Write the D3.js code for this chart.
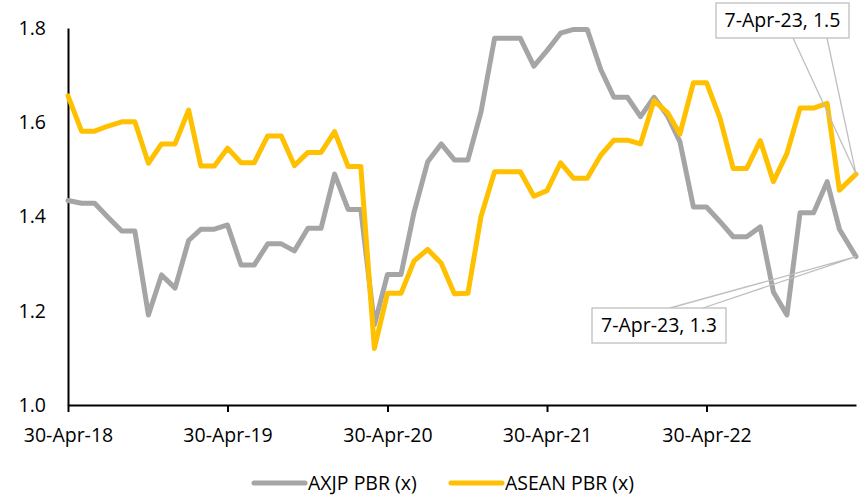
<!DOCTYPE html>
<html>
<head>
<meta charset="utf-8">
<script src="https://cdn.jsdelivr.net/npm/d3@7"></script>
<style>
  body { margin: 0; background: #fff; }
  text { font-family: "Open Sans", "Noto Sans", sans-serif; fill: #000; }
</style>
</head>
<body>
<div id="chart"></div>
<script>
// Month-end observations, last one is a partial month
const dates = [
  "2018-04-30","2018-05-31","2018-06-30","2018-07-31","2018-08-31","2018-09-30","2018-10-31","2018-11-30","2018-12-31",
  "2019-01-31","2019-02-28","2019-03-31","2019-04-30","2019-05-31","2019-06-30","2019-07-31","2019-08-31","2019-09-30","2019-10-31","2019-11-30","2019-12-31",
  "2020-01-31","2020-02-29","2020-03-31","2020-04-30","2020-05-31","2020-06-30","2020-07-31","2020-08-31","2020-09-30","2020-10-31","2020-11-30","2020-12-31",
  "2021-01-31","2021-02-28","2021-03-31","2021-04-30","2021-05-31","2021-06-30","2021-07-31","2021-08-31","2021-09-30","2021-10-31","2021-11-30","2021-12-31",
  "2022-01-31","2022-02-28","2022-03-31","2022-04-30","2022-05-31","2022-06-30","2022-07-31","2022-08-31","2022-09-30","2022-10-31","2022-11-30","2022-12-31",
  "2023-01-31","2023-02-28","2023-04-07"
];

const axjpPBR = [
  1.434,1.428,1.428,1.398,1.369,1.369,1.191,1.276,1.248,1.349,1.373,1.373,1.382,1.297,1.297,
  1.342,1.342,1.327,1.375,1.375,1.490,1.415,1.415,1.170,
  1.277,1.277,1.410,1.516,1.554,1.520,1.520,
  1.622,1.778,1.778,1.778,1.719,1.752,1.789,1.797,1.797,1.712,1.653,1.653,1.612,
  1.653,1.613,1.559,1.420,1.420,1.389,1.357,1.357,1.378,1.240,1.191,1.408,1.408,1.474,1.373,
  1.315
];

const aseanPBR = [
  1.656,1.581,1.581,1.592,1.601,1.601,1.513,1.554,1.554,1.626,1.507,1.507,1.545,1.514,1.514,
  1.571,1.571,1.508,1.536,1.536,1.580,1.506,1.506,1.120,
  1.237,1.237,1.306,1.330,1.301,1.236,1.237,
  1.400,1.495,1.495,1.495,1.443,1.455,1.514,1.481,1.481,1.530,1.562,1.562,1.554,
  1.646,1.620,1.575,1.684,1.684,1.608,1.502,1.502,1.561,1.474,1.534,1.630,1.630,1.640,1.456,
  1.490
];

const seriesNames = ["AXJP PBR (x)", "ASEAN PBR (x)"];
const seriesColors = ["#a5a5a5", "#ffc000"];
const yTicks = [1.0, 1.2, 1.4, 1.6, 1.8];
const xTicks = ["2018-04-30", "2019-04-30", "2020-04-30", "2021-04-30", "2022-04-30"];

const parseDate = d3.timeParse("%Y-%m-%d");
const fmtDate = d3.timeFormat("%-d-%b-%y");
const fontSize = "19.5px";

const width = 862, height = 496;
const margin = { top: 28, right: 6, bottom: 91, left: 68 };

const svg = d3.select("#chart")
  .append("svg")
  .attr("width", width)
  .attr("height", height);

const x = d3.scaleTime()
  .domain([parseDate(dates[0]), parseDate(dates[dates.length - 1])])
  .range([margin.left, width - margin.right]);

const y = d3.scaleLinear()
  .domain([1.0, 1.8])
  .range([height - margin.bottom, margin.top]);

// Y axis: labels only, plain black line
const yAxis = svg.append("g")
  .attr("transform", `translate(${margin.left},0)`)
  .call(d3.axisLeft(y).tickValues(yTicks).tickFormat(d3.format(".1f")).tickSize(0).tickPadding(22));
yAxis.select(".domain").attr("stroke", "#000").attr("stroke-width", 2);
yAxis.selectAll("text").style("font-size", fontSize).attr("fill", "#000");

// X axis
const xAxis = svg.append("g")
  .attr("transform", `translate(0,${y(1.0)})`)
  .call(d3.axisBottom(x).tickValues(xTicks.map(parseDate)).tickFormat(fmtDate).tickSize(7).tickSizeOuter(0).tickPadding(16));
xAxis.select(".domain").attr("stroke", "#000").attr("stroke-width", 2);
xAxis.selectAll(".tick line").attr("stroke", "#000").attr("stroke-width", 2);
xAxis.selectAll("text").style("font-size", fontSize).attr("fill", "#000");

// Lines
const rows = dates.map((d, i) => ({ date: parseDate(d), axjp: axjpPBR[i], asean: aseanPBR[i] }));
const series = [
  { name: seriesNames[0], color: seriesColors[0], values: rows.map(r => [r.date, r.axjp]) },
  { name: seriesNames[1], color: seriesColors[1], values: rows.map(r => [r.date, r.asean]) }
];

const line = d3.line()
  .x(d => x(d[0]))
  .y(d => y(d[1]));

svg.append("g")
  .selectAll("path")
  .data(series)
  .enter().append("path")
    .attr("d", d => line(d.values))
    .attr("fill", "none")
    .attr("stroke", d => d.color)
    .attr("stroke-width", 5)
    .attr("stroke-linejoin", "round")
    .attr("stroke-linecap", "round");

// Data callouts on the last point
const callouts = [
  { s: series[1], box: { x: 716, y: 3, w: 133, h: 35 }, feet: [793, 827], edge: "bottom" },
  { s: series[0], box: { x: 592, y: 308, w: 134, h: 35 }, feet: [670, 703], edge: "top" }
];

const cg = svg.append("g");
callouts.forEach(c => {
  const last = c.s.values[c.s.values.length - 1];
  const px = x(last[0]), py = y(last[1]);
  const ey = c.edge === "bottom" ? c.box.y + c.box.h : c.box.y;
  cg.append("path")
    .attr("d", `M${c.feet[0]},${ey}L${px},${py}L${c.feet[1]},${ey}`)
    .attr("fill", "none")
    .attr("stroke", "#bfbfbf")
    .attr("stroke-width", 1.3);
  cg.append("rect")
    .attr("x", c.box.x).attr("y", c.box.y)
    .attr("width", c.box.w).attr("height", c.box.h)
    .attr("fill", "#fff")
    .attr("stroke", "#bfbfbf")
    .attr("stroke-width", 1.3);
  cg.append("text")
    .attr("x", c.box.x + c.box.w / 2)
    .attr("y", c.box.y + c.box.h / 2)
    .attr("dy", "0.35em")
    .attr("text-anchor", "middle")
    .style("font-size", fontSize)
    .text(`${fmtDate(last[0])}, ${d3.format(".1f")(last[1])}`);
});

// Legend
const legendX = [254, 451];
const legend = svg.append("g");
series.forEach((s, i) => {
  legend.append("line")
    .attr("x1", legendX[i]).attr("x2", legendX[i] + 51)
    .attr("y1", 483).attr("y2", 483)
    .attr("stroke", s.color)
    .attr("stroke-width", 5)
    .attr("stroke-linecap", "round");
  legend.append("text")
    .attr("x", legendX[i] + 54)
    .attr("y", 483)
    .attr("dy", "0.35em")
    .style("font-size", fontSize)
    .text(s.name);
});
</script>
</body>
</html>
